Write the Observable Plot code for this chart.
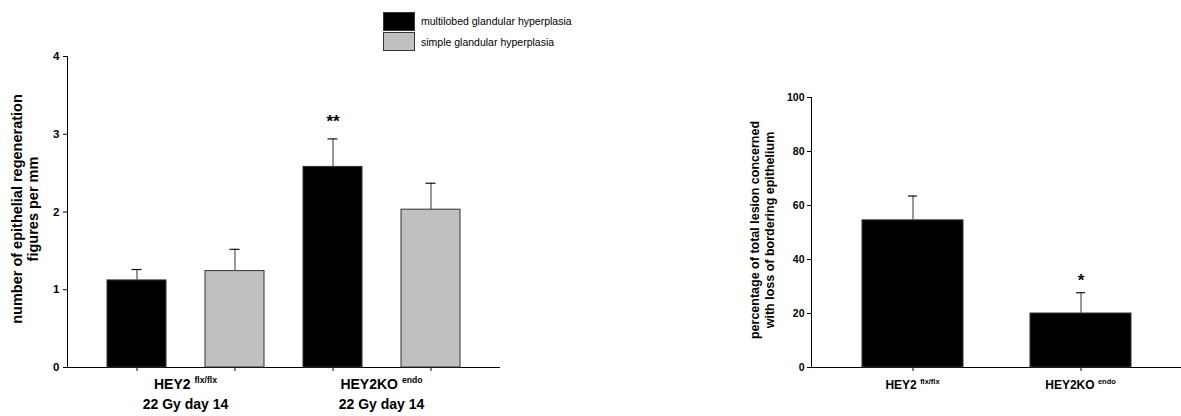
<!DOCTYPE html>
<html><head><meta charset="utf-8">
<script src="https://cdn.jsdelivr.net/npm/d3@7"></script>
<script src="https://cdn.jsdelivr.net/npm/@observablehq/plot@0.6"></script>
<style>
body{margin:0;background:#fff;font-family:"Liberation Sans",Arial,sans-serif;}
#wrap{position:relative;width:1181px;height:416px;overflow:hidden;background:#fff;}
#wrap svg{position:absolute;top:0;}
.lab{position:absolute;transform:translateX(-50%);white-space:nowrap;font-weight:bold;text-align:center;color:#000;line-height:1;}
.lab sup{font-size:0.62em;vertical-align:0;position:relative;top:-0.7em;}
.ttl{position:absolute;transform:translate(-50%,-50%) rotate(-90deg);white-space:pre;font-weight:bold;text-align:center;color:#000;}
.legend{position:absolute;font-size:10.5px;color:#000;}
.legend .row{display:flex;align-items:center;height:20.5px;}
.legend .sw{width:32px;height:19px;border:1px solid #333;margin-right:6px;box-sizing:border-box;}
</style></head><body><div id="wrap"></div>
<script>
// ---- data ----
const groupNames = ["HEY2", "HEY2KO"];
const groupSups = ["flx/flx", "endo"];
const treatment = "22 Gy day 14";
const seriesNames = ["multilobed glandular hyperplasia", "simple glandular hyperplasia"];
const seriesColors = ["#000000", "#c0c0c0"];
const multilobedMean = [1.12, 2.58];
const multilobedSem = [0.14, 0.36];
const simpleMean = [1.24, 2.03];
const simpleSem = [0.28, 0.34];
const regenSig = ["", "**"];
const lossMean = [54.5, 20.0];
const lossSem = [9.0, 7.7];
const lossSig = ["", "*"];
const regenTicks = [0, 1, 2, 3, 4];
const lossTicks = [0, 20, 40, 60, 80, 100];
const regenTitle = "number of epithelial regeneration\nfigures per mm";
const lossTitle = "percentage of total lesion concerned\nwith loss of bordering epithelium";

// ---- tables ----
const regen = [];
groupNames.forEach((g, i) => {
  regen.push({group: g, series: seriesNames[0], key: g + "|" + seriesNames[0], mean: multilobedMean[i], sem: multilobedSem[i], sig: regenSig[i]});
  regen.push({group: g, series: seriesNames[1], key: g + "|" + seriesNames[1], mean: simpleMean[i], sem: simpleSem[i], sig: ""});
});
const loss = groupNames.map((g, i) => ({group: g, mean: lossMean[i], sem: lossSem[i], sig: lossSig[i]}));

const wrap = document.getElementById("wrap");
const baseStyle = {fontFamily: "Liberation Sans, Arial, sans-serif", fontWeight: "bold", color: "#000", background: "transparent", overflow: "visible"};

const left = Plot.plot({
  width: 600, height: 416, marginLeft: 67, marginRight: 101, marginTop: 56, marginBottom: 49,
  style: {...baseStyle, fontSize: "11.5px"},
  x: {domain: regen.map(d => d.key), paddingInner: 0.4, paddingOuter: 0.404, line: true, tickSize: 4, tickFormat: () => "", label: null},
  y: {domain: [0, 4], ticks: regenTicks, tickFormat: "d", line: true, tickSize: 4, tickPadding: 4, label: null},
  color: {domain: seriesNames, range: seriesColors},
  marks: [
    Plot.barY(regen, {x: "key", y: "mean", fill: "series", stroke: "#333", strokeWidth: 1}),
    Plot.ruleX(regen, {x: "key", y1: "mean", y2: d => d.mean + d.sem, stroke: "#555", strokeWidth: 1.2}),
    Plot.tickY(regen, {x: "key", y: d => d.mean + d.sem, stroke: "#111", strokeWidth: 1.2, insetLeft: 24.5, insetRight: 24.5}),
    Plot.text(regen.filter(d => d.sig), {x: "key", y: d => d.mean + d.sem, text: "sig", dy: -17, fontSize: 17, fontWeight: "bold"})
  ]
});
left.style.left = "0px";
wrap.appendChild(left);

const RIGHT_LEFT = 700;
const right = Plot.plot({
  width: 481, height: 416, marginLeft: 111, marginRight: 0, marginTop: 97, marginBottom: 49,
  style: {...baseStyle, fontSize: "10.5px"},
  x: {domain: groupNames, paddingInner: 0.4, paddingOuter: 0.3, line: true, tickSize: 4, tickFormat: () => "", label: null},
  y: {domain: [0, 100], ticks: lossTicks, tickFormat: "d", line: true, tickSize: 4, tickPadding: 3, label: null},
  marks: [
    Plot.barY(loss, {x: "group", y: "mean", fill: seriesColors[0], stroke: "#333", strokeWidth: 1}),
    Plot.ruleX(loss, {x: "group", y1: "mean", y2: d => d.mean + d.sem, stroke: "#555", strokeWidth: 1.2}),
    Plot.tickY(loss, {x: "group", y: d => d.mean + d.sem, stroke: "#111", strokeWidth: 1.2, insetLeft: 46, insetRight: 46}),
    Plot.text(loss.filter(d => d.sig), {x: "group", y: d => d.mean + d.sem, text: "sig", dy: -12, fontSize: 17, fontWeight: "bold"})
  ]
});
right.style.left = RIGHT_LEFT + "px";
wrap.appendChild(right);

// ---- group labels placed with the plots' own x scales ----
function addLabel(x, y, html, size) {
  const d = document.createElement("div");
  d.className = "lab";
  d.style.left = x + "px";
  d.style.top = y + "px";
  d.style.fontSize = size + "px";
  d.innerHTML = html;
  wrap.appendChild(d);
}
function addTitle(cx, cy, text, size, lh) {
  const d = document.createElement("div");
  d.className = "ttl";
  d.style.left = cx + "px";
  d.style.top = cy + "px";
  d.style.fontSize = size + "px";
  d.style.lineHeight = lh + "px";
  d.textContent = text;
  wrap.appendChild(d);
}
const lx = left.scale("x");
const ly = left.scale("y");
groupNames.forEach((g, i) => {
  const cx = lx.apply(g + "|" + seriesNames[0]) + lx.bandwidth / 2 + lx.step / 2;
  addLabel(cx, 377, `${g} <sup>${groupSups[i]}</sup>`, 14);
  addLabel(cx, 397, treatment, 14);
});
addTitle(lx.range[0] - 42, (ly.apply(0) + ly.apply(4)) / 2 - 3, regenTitle, 14.5, 16);

const rx = right.scale("x");
const ry = right.scale("y");
groupNames.forEach((g, i) => {
  const cx = RIGHT_LEFT + rx.apply(g) + rx.bandwidth / 2;
  addLabel(cx, 379, `${g} <sup>${groupSups[i]}</sup>`, 12);
});
addTitle(RIGHT_LEFT + rx.range[0] - 48, (ry.apply(0) + ry.apply(100)) / 2 - 2, lossTitle, 12.5, 15);

// ---- legend ----
const lg = document.createElement("div");
lg.className = "legend";
lg.style.left = "383px";
lg.style.top = "11px";
seriesNames.forEach((s, i) => {
  const r = document.createElement("div");
  r.className = "row";
  r.innerHTML = `<div class="sw" style="background:${seriesColors[i]}"></div><span>${s}</span>`;
  lg.appendChild(r);
});
wrap.appendChild(lg);
</script></body></html>
